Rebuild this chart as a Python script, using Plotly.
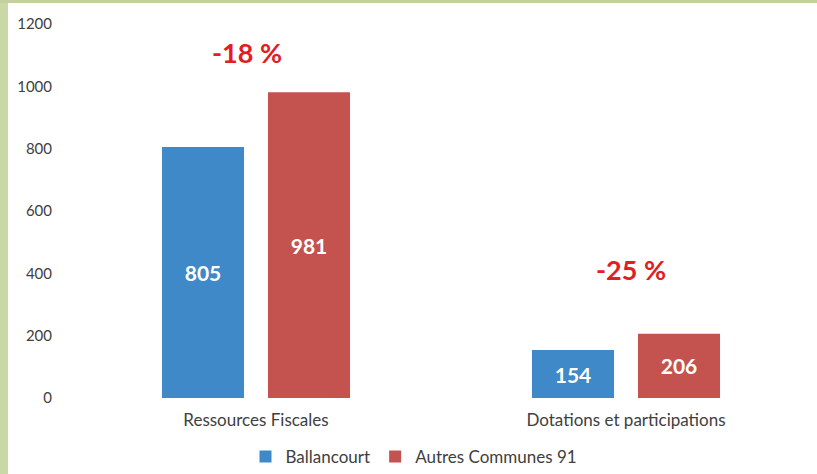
import plotly.graph_objects as go

categories = ["Ressources Fiscales", "Dotations et participations"]
ballancourt = [805, 154]
autres = [981, 206]
ecarts = ["-18 %", "-25 %"]
ecart_y = [1110, 411]
y_ticks = [0, 200, 400, 600, 800, 1000, 1200]

W, H = 817, 474
ML, MR, MT, MB = 71, 6, 24, 76
pw = W - ML - MR
ph = H - MT - MB

font_family = "Lato, 'Open Sans', sans-serif"

fig = go.Figure()
fig.add_trace(go.Bar(
    name="Ballancourt", x=categories, y=ballancourt,
    marker=dict(color="#3f89c8", line=dict(width=0)),
    text=[str(v) for v in ballancourt], textposition="inside",
    insidetextanchor="middle",
    textfont=dict(color="white", size=21, family=font_family, weight="bold"),
))
fig.add_trace(go.Bar(
    name="Autres Communes 91", x=categories, y=autres,
    marker=dict(color="#c4524f", line=dict(width=0)),
    text=[str(v) for v in autres], textposition="inside",
    insidetextanchor="middle",
    textfont=dict(color="white", size=21, family=font_family, weight="bold"),
))

for c, t, yy, xs in zip(categories, ecarts, ecart_y, [-9, 5]):
    fig.add_annotation(x=c, y=yy, text=t, showarrow=False, xshift=xs,
                       font=dict(color="#e0201e", size=27, family=font_family, weight="bold"))

# scanned page green border (left and top)
def px_x(p):
    return (p - ML) / pw

def px_y(p):
    return 1 - (p - MT) / ph

fig.add_shape(type="rect", xref="paper", yref="paper",
              x0=px_x(-2), x1=px_x(8), y0=px_y(H + 2), y1=px_y(-2),
              fillcolor="#c9d8a5", line=dict(width=0), layer="below")
fig.add_shape(type="rect", xref="paper", yref="paper",
              x0=px_x(-2), x1=px_x(W + 2), y0=px_y(3), y1=px_y(-2),
              fillcolor="#c3d29d", line=dict(width=0), layer="below")

fig.update_layout(
    width=W, height=H,
    margin=dict(l=ML, r=MR, t=MT, b=MB, pad=0, autoexpand=False),
    paper_bgcolor="white", plot_bgcolor="white",
    barmode="group", bargap=0.427, bargroupgap=0.226,
    font=dict(family=font_family, color="#404040", size=15),
    showlegend=True,
    legend=dict(orientation="h", x=px_x(414), xanchor="center", y=px_y(457), yanchor="middle",
                font=dict(size=17, color="#404040", family=font_family),
                itemwidth=30, traceorder="normal"),
    xaxis=dict(showgrid=False, showline=False, zeroline=False, ticks="", automargin=False,
               tickfont=dict(size=17, color="#404040"), ticklabelstandoff=10),
    yaxis=dict(range=[0, 1200], tickvals=y_ticks, showgrid=False, zeroline=False,
               automargin=False,
               showline=False, ticks="", tickfont=dict(size=15, color="#404040"),
               ticklabelstandoff=18),
)

fig.write_html("out.html", config={"displayModeBar": False},
               post_script="document.body.style.margin='0';")
